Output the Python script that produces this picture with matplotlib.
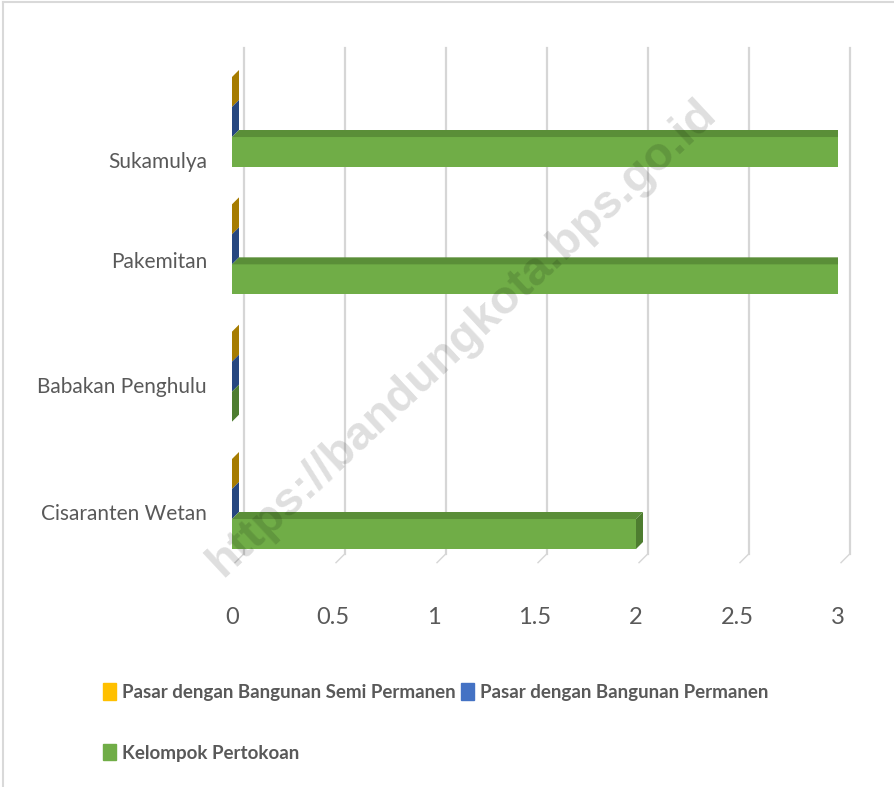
import matplotlib
matplotlib.use("Agg")
import matplotlib.pyplot as plt
from matplotlib.patches import Polygon, Patch
from matplotlib.lines import Line2D

# data (bottom to top)
categories = ["Cisaranten Wetan", "Babakan Penghulu", "Pakemitan", "Sukamulya"]
semi_permanen = [0, 0, 0, 0]
permanen = [0, 0, 0, 0]
pertokoan = [2, 0, 3, 3]
x_ticks = [0, 0.5, 1, 1.5, 2, 2.5, 3]

series = [
    ("Pasar dengan Bangunan Semi Permanen", semi_permanen, "#FFC000", "#BF9000", "#A67C00"),
    ("Pasar dengan Bangunan Permanen", permanen, "#4472C4", "#2F5597", "#264780"),
    ("Kelompok Pertokoan", pertokoan, "#70AD47", "#5A8E38", "#4E7D30"),
]

W, H = 894, 787
fig = plt.figure(figsize=(W / 100, H / 100), dpi=100)
FONT = ["Lato", "DejaVu Sans"]
TXT = "#595959"

# axes: value 0 at px 232, value 3 at px 838; y px 40..565
ax = fig.add_axes([232 / W, (H - 565) / H, 606 / W, 525 / H])
ax.set_xlim(0, 3)
ax.set_ylim(-0.479, 3.644)
for s in ax.spines.values():
    s.set_visible(False)

px_x = 3 / 606.0      # data per pixel (x)
px_y = 4.123 / 525.0  # data per pixel (y)

# back wall gridlines
for v in x_ticks:
    gx = v + 12 * px_x
    ax.plot([gx, gx], [-0.39, 3.58], color="#D6D6D6", lw=1.6, clip_on=False, zorder=0)
    ax.plot([gx, gx - 9 * px_x], [-0.39, -0.39 - 9 * px_y], color="#D6D6D6", lw=1.0,
            clip_on=False, zorder=0)

h = 30 * px_y
dx, dy = 7 * px_x, 7 * px_y
offsets = [h, 0, -h]
ypos = range(len(categories))

for (label, vals, c_front, c_top, c_end), off in zip(series, offsets):
    ys = [y + off for y in ypos]
    ax.barh(ys, vals, height=h, color=c_front, zorder=2, linewidth=0)
    for yc, v in zip(ys, vals):
        b, t = yc - h / 2, yc + h / 2
        if v > 0:
            ax.add_patch(Polygon([(0, t), (v, t), (v + dx, t + dy), (dx, t + dy)],
                                 closed=True, color=c_top, lw=0, zorder=2))
        ax.add_patch(Polygon([(v, b), (v, t), (v + dx, t + dy), (v + dx, b + dy)],
                             closed=True, color=c_end, lw=0, zorder=2))

# category labels (Excel perspective places them slightly off-centre)
ax.set_yticks([-0.063, 0.935, 1.916, 2.70])
ax.set_yticklabels(categories)
ax.set_xticks(x_ticks)
ax.set_xticklabels([f"{t:g}" for t in x_ticks])
ax.tick_params(axis="y", length=0, pad=18, labelsize=15, labelcolor=TXT)
ax.tick_params(axis="x", length=0, pad=30, labelsize=17, labelcolor=TXT)
for lab in ax.get_xticklabels() + ax.get_yticklabels():
    lab.set_family(FONT)

# legend, row-wise order
handles = [Patch(color=s[2]) for s in series]
order = [0, 2, 1]
leg = fig.legend([handles[i] for i in order], [series[i][0] for i in order],
                 ncol=2, loc="upper left", bbox_to_anchor=(94 / W, 1 - 674 / H),
                 frameon=False, prop={"family": FONT, "weight": "bold", "size": 13.5},
                 handlelength=0.65, handleheight=0.95, handletextpad=0.35,
                 columnspacing=0.3, labelspacing=2.3, borderpad=0)
for t in leg.get_texts():
    t.set_color(TXT)

# watermark
fig.text(462 / W, 1 - 338 / H, "https://bandungkota.bps.go.id", rotation=43,
         ha="center", va="center", fontsize=34, fontweight="bold",
         family=["Liberation Sans", "DejaVu Sans"], color="black", alpha=0.13, zorder=5)

# outer frame
fig.add_artist(Line2D([3 / W, 3 / W], [0, 1 - 2 / H], color="#D9D9D9", lw=1.5))
fig.add_artist(Line2D([3 / W, 1], [1 - 2 / H, 1 - 2 / H], color="#D9D9D9", lw=1.5))

fig.savefig("out.png", dpi=100)
